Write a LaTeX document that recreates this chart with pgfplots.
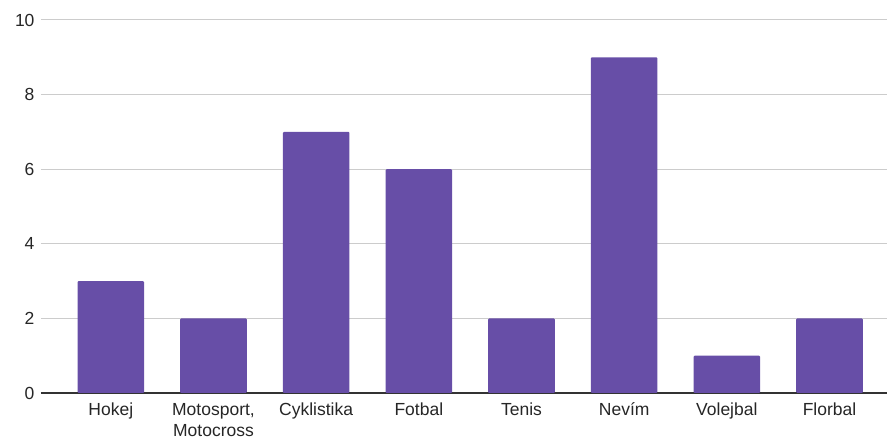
\documentclass[border=0pt]{standalone}
\usepackage{fontspec}
\setmainfont{Liberation Sans}
\usepackage{pgfplots}
\pgfplotsset{compat=1.18}
\usetikzlibrary{calc}
\definecolor{barc}{HTML}{674EA7}
\definecolor{gridc}{HTML}{CCCCCC}
\definecolor{axc}{HTML}{333333}
\newcommand{\ph}{\vphantom{Í}}
\begin{document}
\begin{tikzpicture}
\begin{axis}[name=ax, scale only axis, width=846pt, height=373pt,
  xmin=-0.68, xmax=7.56, ymin=0, ymax=10, ytick={0,2,...,10},
  xtick=data,
  xticklabels={\ph Hokej,{\ph Motosport,\\Motocross},\ph Cyklistika,\ph Fotbal,\ph Tenis,\ph Nevím,\ph Volejbal,\ph Florbal},
  axis x line*=bottom, axis y line*=left,
  y axis line style={draw=none},
  x axis line style={draw=axc, line width=1.2pt},
  major tick length=0pt,
  ymajorgrids, grid style={gridc, line width=1pt},
  /pgf/number format/assume math mode=true,
  tick label style={font=\fontsize{17.5}{21}\selectfont, text=black!85},
  x tick label style={align=center, yshift=-4pt},
  y tick label style={xshift=-3pt},
  ybar, bar width=0.648,
]
\addplot[fill=barc, draw=none, rounded corners=1pt] coordinates {(0,3) (1,2) (2,7) (3,6) (4,2) (5,9) (6,1) (7,2)};
\end{axis}
\pgfresetboundingbox
\path ($(ax.south west)+(-41pt,-48pt)$) rectangle ($(ax.north east)+(0pt,20pt)$);
\end{tikzpicture}
\end{document}
